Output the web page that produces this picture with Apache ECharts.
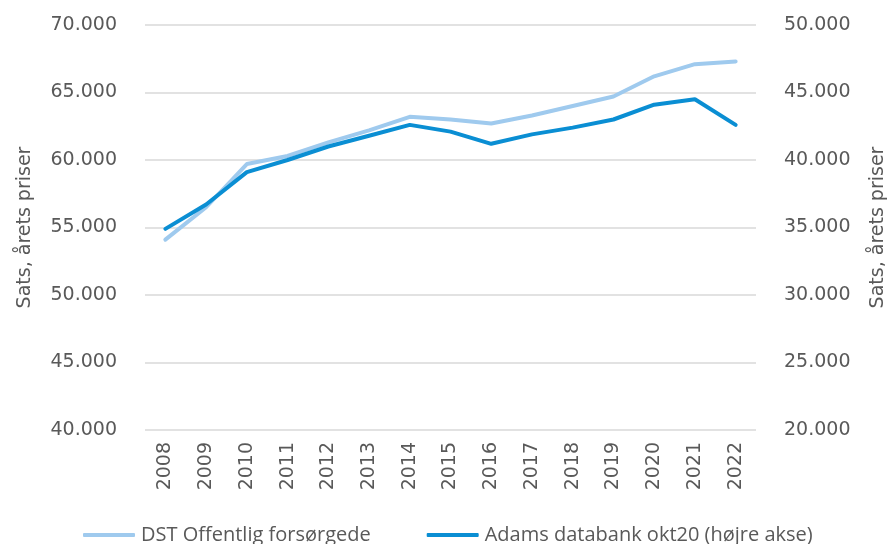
<!DOCTYPE html>
<html>
<head>
<meta charset="utf-8">
<script src="https://cdn.jsdelivr.net/npm/echarts@6/dist/echarts.min.js"></script>
<style>
  html, body { margin: 0; padding: 0; background: #fff; }
  #chart { width: 896px; height: 544px; }
</style>
</head>
<body>
<div id="chart"></div>
<script>
  // data
  var years = ['2008', '2009', '2010', '2011', '2012', '2013', '2014', '2015',
    '2016', '2017', '2018', '2019', '2020', '2021', '2022'];
  var dstValues = [54100, 56500, 59700, 60300, 61300, 62200, 63200, 63000,
    62700, 63300, 64000, 64700, 66200, 67100, 67300];
  var adamsValues = [34900, 36700, 39100, 40000, 41000, 41800, 42600, 42100,
    41200, 41900, 42400, 43000, 44100, 44500, 42600];
  var seriesNames = ['DST Offentlig forsørgede', 'Adams databank okt20 (højre akse)'];
  var axisName = 'Sats, årets priser';

  var textColor = '#595959';
  var font = 'DejaVu Sans';

  function fmtAxis(v) {
    return v.toFixed(0).replace(/\B(?=(\d{3})+(?!\d))/g, '.');
  }

  var chart = echarts.init(document.getElementById('chart'));
  var option = {
    backgroundColor: '#ffffff',
    animation: false,
    grid: { left: 145, right: 139, top: 25, bottom: 114 },
    legend: {
      top: 520,
      left: 78,
      itemWidth: 52,
      itemHeight: 4,
      itemGap: 56,
      icon: 'roundRect',
      textStyle: { color: textColor, fontSize: 20, fontFamily: 'Open Sans', padding: [0, 0, 0, 1] },
      data: seriesNames
    },
    xAxis: {
      type: 'category',
      data: years,
      axisLine: { show: false },
      axisTick: { show: false },
      axisLabel: {
        rotate: 90,
        color: textColor,
        fontSize: 19,
        fontFamily: font,
        margin: 12
      }
    },
    yAxis: [{
      type: 'value',
      min: 40000,
      max: 70000,
      interval: 5000,
      name: axisName,
      nameLocation: 'middle',
      nameGap: 110,
      nameTextStyle: { color: textColor, fontSize: 19, fontFamily: font },
      axisLine: { show: false },
      axisTick: { show: false },
      splitLine: { lineStyle: { color: '#d9d9d9', width: 1.5 } },
      axisLabel: { color: textColor, fontSize: 19, fontFamily: font, margin: 28, formatter: fmtAxis }
    }, {
      type: 'value',
      min: 20000,
      max: 50000,
      interval: 5000,
      name: axisName,
      nameLocation: 'middle',
      nameGap: 113,
      nameRotate: 90,
      nameTextStyle: { color: textColor, fontSize: 19, fontFamily: font },
      axisLine: { show: false },
      axisTick: { show: false },
      splitLine: { show: false },
      axisLabel: { color: textColor, fontSize: 19, fontFamily: font, margin: 28, formatter: fmtAxis }
    }],
    series: [{
      name: seriesNames[0],
      type: 'line',
      yAxisIndex: 0,
      data: dstValues,
      symbol: 'none',
      color: '#9fcaee',
      lineStyle: { width: 4, color: '#9fcaee', cap: 'round' }
    }, {
      name: seriesNames[1],
      type: 'line',
      yAxisIndex: 1,
      data: adamsValues,
      symbol: 'none',
      color: '#0a8ed3',
      lineStyle: { width: 4, color: '#0a8ed3', cap: 'round' }
    }]
  };
  chart.setOption(option);
</script>
</body>
</html>
